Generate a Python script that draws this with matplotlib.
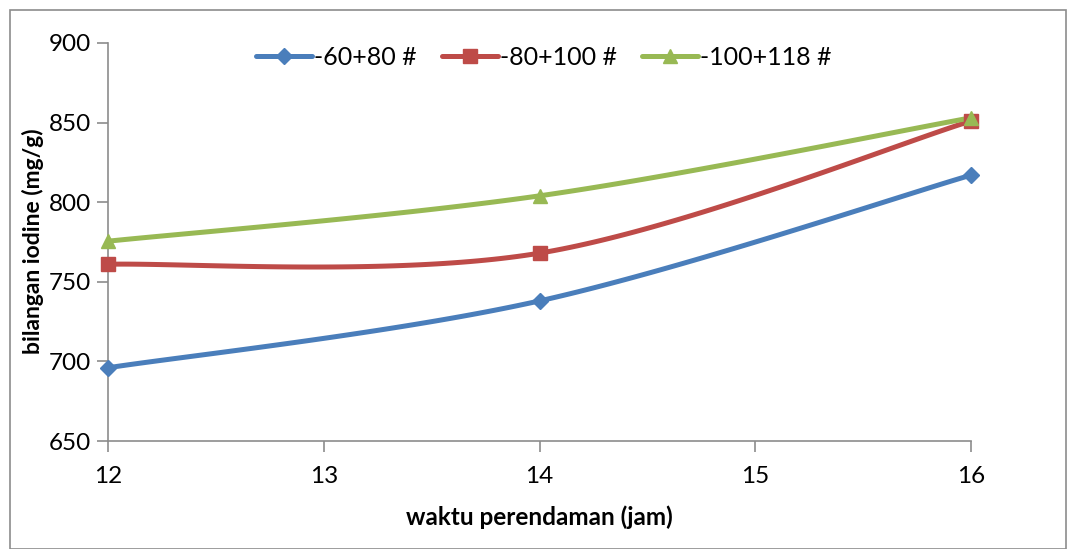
import numpy as np
import matplotlib
matplotlib.use("Agg")
import matplotlib.pyplot as plt
from matplotlib.patches import Rectangle

plt.rcParams['font.family'] = ['Lato', 'DejaVu Sans']

x_hours = [12, 14, 16]
series_names = ['-60+80 #', '-80+100 #', '-100+118 #']
s1 = [696, 738, 817]
s2 = [761, 768, 851]
s3 = [775.5, 804, 853]
colors = ['#4A7EBB', '#BE4B48', '#98B954']
markers = ['D', 's', '^']
msizes = [8.5, 9.5, 10.5]


def smooth(xs, ys, n=60):
    xs = np.asarray(xs, float); ys = np.asarray(ys, float)
    P = np.column_stack([xs, ys])
    out = []
    for i in range(len(P) - 1):
        p0 = P[i - 1] if i > 0 else P[i]
        p1 = P[i]
        p2 = P[i + 1]
        p3 = P[i + 2] if i + 2 < len(P) else P[i + 1]
        c1 = p1 + (p2 - p0) / 6.0
        c2 = p2 - (p3 - p1) / 6.0
        t = np.linspace(0, 1, n)[:, None]
        seg = ((1 - t) ** 3) * p1 + 3 * ((1 - t) ** 2) * t * c1 + 3 * (1 - t) * t ** 2 * c2 + t ** 3 * p2
        out.append(seg if i == 0 else seg[1:])
    arr = np.vstack(out)
    return arr[:, 0], arr[:, 1]


fig = plt.figure(figsize=(10.67, 5.49), dpi=100)
ax = fig.add_axes([108 / 1067, 1 - 441 / 549, (971 - 108) / 1067, (441 - 43) / 549])

for ys, c, m, ms, name in zip([s1, s2, s3], colors, markers, msizes, series_names):
    sx, sy = smooth(x_hours, ys)
    ax.plot(sx, sy, color=c, lw=3.6, solid_capstyle='round', zorder=2)
    ax.plot(x_hours, ys, ls='none', marker=m, ms=ms, color=c, zorder=3, clip_on=False)
    ax.plot([], [], color=c, lw=3.6, marker=m, ms=ms, label=name, solid_capstyle='round')

ax.set_xlim(12, 16)
ax.set_ylim(650, 900)
ax.set_xticks([12, 13, 14, 15, 16])
ax.set_yticks([650, 700, 750, 800, 850, 900])
for s in ['top', 'right']:
    ax.spines[s].set_visible(False)
for s in ['left', 'bottom']:
    ax.spines[s].set_color('#8c8c8c')
    ax.spines[s].set_linewidth(1.2)
ax.tick_params(axis='both', direction='out', length=8, width=1.2, color='#8c8c8c',
               labelsize=17.5, labelcolor='black')
ax.tick_params(axis='x', pad=10)
ax.tick_params(axis='y', pad=4)

ax.set_xlabel('waktu perendaman (jam)', fontsize=17.5, fontweight='bold', labelpad=13)
fig.text(33 / 1067, 1 - 241 / 549, 'bilangan iodine (mg/g)', rotation=90, fontsize=16.5,
         fontweight='bold', ha='center', va='center')

leg = ax.legend(loc='upper center', bbox_to_anchor=(0.505, 1.05), ncol=3, frameon=False,
                fontsize=18, handlelength=2.25, columnspacing=1.0, handletextpad=0.08)

fig.patches.append(Rectangle((10 / 1067, 0), 1 - 10 / 1067 - 0.001, 1 - 10 / 549,
                             transform=fig.transFigure, fill=False, edgecolor='#8c8c8c', lw=1.2))

fig.savefig('out.png', dpi=100)
